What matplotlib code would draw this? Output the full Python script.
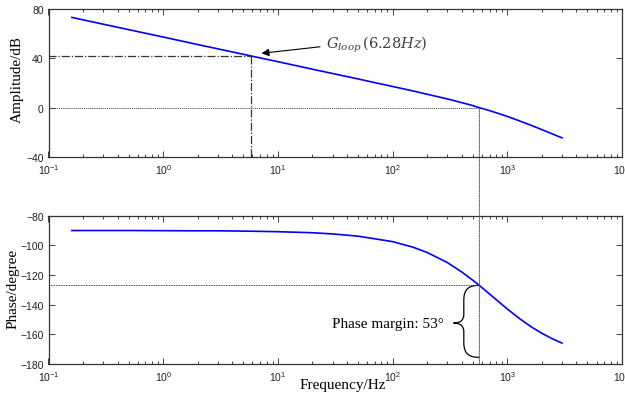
import numpy as np
import matplotlib.pyplot as plt
from matplotlib.path import Path
from matplotlib.patches import PathPatch, ConnectionPatch
from matplotlib.transforms import blended_transform_factory

# values
freq = [0.16, 0.3, 0.5, 1, 2, 3, 5, 6.28, 10, 20, 30, 50, 100, 150, 200,
        300, 400, 500, 570, 700, 850, 1000, 1300, 1600, 2000, 2500, 3000]
mag_db = [73.2, 67.7, 63.3, 57.3, 51.2, 47.7, 43.3, 41.3, 37.3, 31.2, 27.7,
          23.3, 17.2, 13.6, 10.9, 7.1, 4.1, 1.7, 0.0, -2.4, -4.9, -7.1,
          -11.0, -14.2, -17.8, -21.5, -24.5]
phase_deg = [-90.0, -90.0, -90.0, -90.1, -90.2, -90.2, -90.4, -90.5, -90.8,
             -91.5, -92.3, -93.8, -97.5, -101.2, -104.8, -111.6, -117.9,
             -123.5, -127.0, -132.8, -138.3, -142.9, -149.8, -154.7,
             -159.3, -163.2, -165.9]

f_mark, mag_mark = 5.8, 42.0     # G_loop marker
f_cross, pm_phase = 570, -127.0  # crossover / phase margin
xticks = [0.1, 1, 10, 100, 1000, 10000]
xticklabels = ['$10^{-1}$', '$10^{0}$', '$10^{1}$', '$10^{2}$', '$10^{3}$', '$10^{4}$']

plt.rcParams['font.family'] = ['Liberation Sans', 'DejaVu Sans']
plt.rcParams['mathtext.fontset'] = 'custom'
plt.rcParams['mathtext.rm'] = 'Liberation Sans'

fig = plt.figure(figsize=(6.25, 4.02), dpi=100)
ax1 = fig.add_axes([0.0776, 0.607, 0.9176, 0.368])
ax2 = fig.add_axes([0.0776, 0.092, 0.9176, 0.369])

serif = {'family': 'Liberation Serif', 'size': 11}

for ax in (ax1, ax2):
    ax.set_xscale('log')
    ax.set_xlim(0.1, 10000)
    ax.set_xticks(xticks)
    ax.set_xticklabels(xticklabels)
    ax.tick_params(which='both', direction='in', top=True, right=True,
                   labelsize=7.5, colors='#222222', width=0.6)
    ax.tick_params(which='major', length=4)
    ax.tick_params(which='minor', length=2.5)
    for s in ax.spines.values():
        s.set_linewidth(0.9)
        s.set_color('#333333')

# amplitude
ax1.plot(freq, mag_db, color='#0000ff', lw=1.2)
ax1.set_ylim(-40, 80)
ax1.set_yticks([-40, 0, 40, 80])
ax1.set_ylabel('Amplitude/dB', fontdict=serif)
ax1.yaxis.set_label_coords(-0.043, 0.53)
ax1.plot([0.1, f_mark], [mag_mark, mag_mark], color='#333333', lw=0.9, ls='-.')
ax1.plot([f_mark, f_mark], [mag_mark, -40], color='#333333', lw=0.9, ls='-.')
ax1.plot([0.1, f_cross], [0, 0], color='#444444', lw=0.6, ls=(0, (1.5, 1)))
ax1.annotate('', xy=(7.2, 44.1), xytext=(23.3, 49.4),
             arrowprops=dict(arrowstyle='-|>', color='black', lw=0.8,
                             mutation_scale=11, shrinkA=0, shrinkB=0))
ax1.text(26.2, 51.5, r'$G_{loop}\,(6.28Hz)$', fontsize=10.5, color='#404040',
         va='center', ha='left', math_fontfamily='dejavuserif')

# phase
ax2.plot(freq, phase_deg, color='#0000ff', lw=1.2)
ax2.set_ylim(-180, -80)
ax2.set_yticks(range(-180, -79, 20))
ax2.set_ylabel('Phase/degree', fontdict=serif)
ax2.yaxis.set_label_coords(-0.050, 0.51)
ax2.plot([0.1, f_cross], [pm_phase, pm_phase], color='#444444', lw=0.6,
         ls=(0, (2, 1)))

# vertical crossover line through both axes
con = ConnectionPatch(xyA=(f_cross, 0), coordsA=ax1.transData,
                      xyB=(f_cross, -180), coordsB=ax2.transData,
                      color='#444444', lw=0.6, ls=(0, (2, 1)))
fig.add_artist(con)

# curly brace for the phase margin
tr = blended_transform_factory(ax2.transAxes, ax2.transData)
xr = (np.log10(f_cross) + 1) / 5
xm, xl = xr - 0.027, xr - 0.045
yt, ym, yb = pm_phase, -152.4, -175.5
verts = [(xr, yt),
         (xm + 0.010, yt), (xm, yt - 2), (xm, yt - 10),
         (xm, ym + 6),
         (xm, ym + 2), (xm - 0.006, ym), (xl, ym),
         (xm - 0.006, ym), (xm, ym - 2), (xm, ym - 6),
         (xm, yb + 10),
         (xm, yb + 2), (xm + 0.010, yb), (xr, yb)]
codes = [Path.MOVETO,
         Path.CURVE4, Path.CURVE4, Path.CURVE4,
         Path.LINETO,
         Path.CURVE4, Path.CURVE4, Path.CURVE4,
         Path.CURVE4, Path.CURVE4, Path.CURVE4,
         Path.LINETO,
         Path.CURVE4, Path.CURVE4, Path.CURVE4]
ax2.add_patch(PathPatch(Path(verts, codes), transform=tr, fill=False,
                        lw=0.9, color='black', clip_on=False))
ax2.text(0.6896, ym, 'Phase margin: 53°', transform=tr, ha='right',
         va='center', family='Liberation Serif', fontsize=11)

fig.text(343 / 625, 1 - 386 / 402, 'Frequency/Hz', ha='center', va='center',
         family='Liberation Serif', fontsize=11)

fig.savefig('out.png', dpi=100)
